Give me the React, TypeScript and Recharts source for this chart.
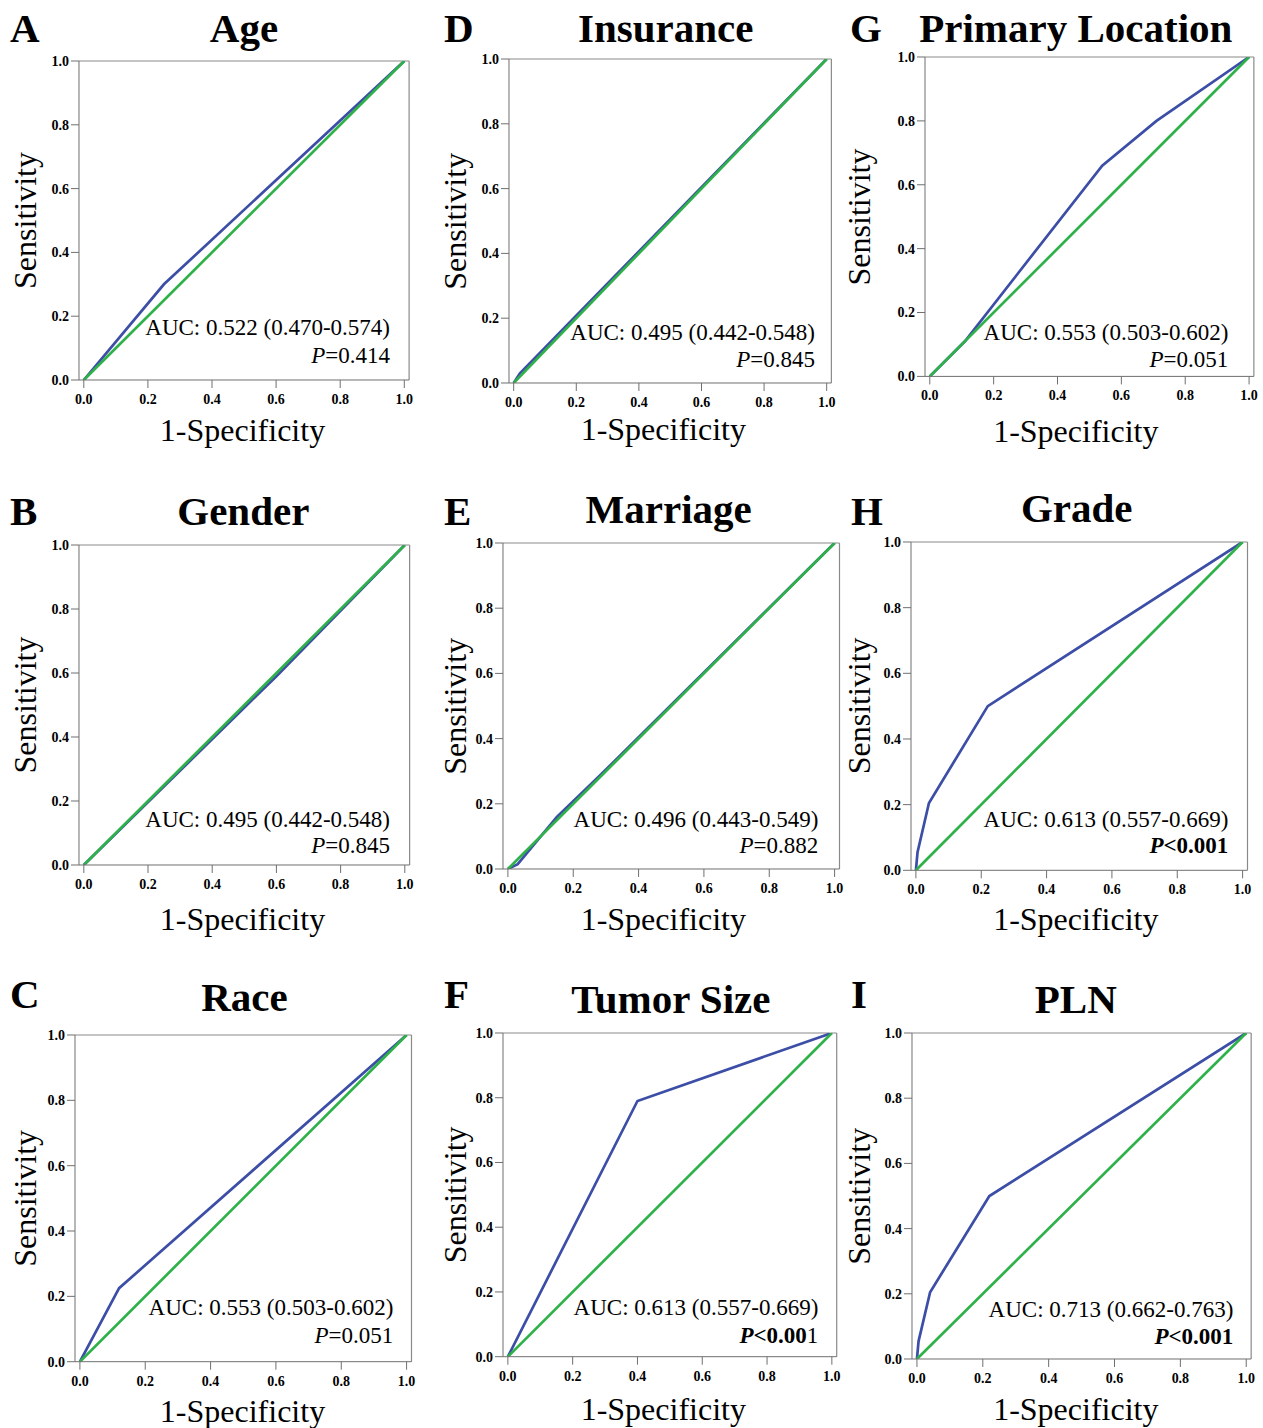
import React from 'react';
import { LineChart, Line, XAxis, YAxis, ReferenceLine } from 'recharts';

// ---- data ----
const panelLetters = ['A', 'B', 'C', 'D', 'E', 'F', 'G', 'H', 'I'];
const panelTitles = ['Age', 'Gender', 'Race', 'Insurance', 'Marriage', 'Tumor Size', 'Primary Location', 'Grade', 'PLN'];
const aucLabels = [
  'AUC: 0.522 (0.470-0.574)',
  'AUC: 0.495 (0.442-0.548)',
  'AUC: 0.553 (0.503-0.602)',
  'AUC: 0.495 (0.442-0.548)',
  'AUC: 0.496 (0.443-0.549)',
  'AUC: 0.613 (0.557-0.669)',
  'AUC: 0.553 (0.503-0.602)',
  'AUC: 0.613 (0.557-0.669)',
  'AUC: 0.713 (0.662-0.763)',
];
const pValues = ['=0.414', '=0.845', '=0.051', '=0.845', '=0.882', '<0.001', '=0.051', '<0.001', '<0.001'];
// number of characters of the P value that are printed bold (0 = not significant)
const pBoldChars = [0, 0, 0, 0, 0, 5, 0, 6, 6];

const ageFpr = [0, 0.25, 1];
const ageTpr = [0, 0.30, 1];
const genderFpr = [0, 0.6, 1];
const genderTpr = [0, 0.59, 1];
const raceFpr = [0, 0.12, 1];
const raceTpr = [0, 0.225, 1];
const insuranceFpr = [0, 0.02, 1];
const insuranceTpr = [0, 0.03, 1];
const marriageFpr = [0, 0.03, 0.15, 0.28, 1];
const marriageTpr = [0, 0.015, 0.16, 0.285, 1];
const tumorFpr = [0, 0.4, 1];
const tumorTpr = [0, 0.79, 1];
const locationFpr = [0, 0.11, 0.54, 0.71, 1];
const locationTpr = [0, 0.11, 0.66, 0.80, 1];
const gradeFpr = [0, 0.005, 0.04, 0.22, 1];
const gradeTpr = [0, 0.055, 0.205, 0.5, 1];
const plnFpr = [0, 0.005, 0.04, 0.22, 1];
const plnTpr = [0, 0.055, 0.205, 0.5, 1];

const referenceFpr = [0, 1];
const referenceTpr = [0, 1];

const tickValues = [0, 0.2, 0.4, 0.6, 0.8, 1.0];

const curves = [
  [ageFpr, ageTpr],
  [genderFpr, genderTpr],
  [raceFpr, raceTpr],
  [insuranceFpr, insuranceTpr],
  [marriageFpr, marriageTpr],
  [tumorFpr, tumorTpr],
  [locationFpr, locationTpr],
  [gradeFpr, gradeTpr],
  [plnFpr, plnTpr],
];

// ---- layout (page pixels) ----
const layouts = [
  { x0: 83.5, x1: 404, top: 61, bottom: 380, titleX: 244, titleY: 42, letterX: 10, letterY: 42, ylabX: 36, xlabX: 242.5, xlabY: 441, aucX: 390, aucY: 335, pY: 362.7 },
  { x0: 84, x1: 405, top: 545, bottom: 865, titleX: 243.3, titleY: 525, letterX: 10, letterY: 525, ylabX: 36, xlabX: 242.5, xlabY: 930, aucX: 390, aucY: 826.7, pY: 853.3 },
  { x0: 80, x1: 406.7, top: 1035, bottom: 1361.7, titleX: 244.5, titleY: 1011, letterX: 10, letterY: 1008, ylabX: 36, xlabX: 242.5, xlabY: 1421.5, aucX: 393.3, aucY: 1315, pY: 1342.7 },
  { x0: 514, x1: 827, top: 59.3, bottom: 383.3, titleX: 665.8, titleY: 42, letterX: 444, letterY: 42, ylabX: 466, xlabX: 663.3, xlabY: 440, aucX: 815, aucY: 340, pY: 366.7 },
  { x0: 508.3, x1: 835, top: 543.3, bottom: 869.3, titleX: 668.7, titleY: 523, letterX: 444, letterY: 525, ylabX: 466, xlabX: 663.3, xlabY: 930, aucX: 818.3, aucY: 826.7, pY: 853.3 },
  { x0: 507.7, x1: 831.7, top: 1033, bottom: 1356.7, titleX: 670.8, titleY: 1013, letterX: 444, letterY: 1008, ylabX: 466, xlabX: 663.3, xlabY: 1420, aucX: 818.3, aucY: 1315, pY: 1342.7 },
  { x0: 930, x1: 1249.3, top: 57.3, bottom: 376.7, titleX: 1075.8, titleY: 42, letterX: 850, letterY: 42, ylabX: 870, xlabX: 1075.8, xlabY: 441.7, aucX: 1228.3, aucY: 340, pY: 366.7 },
  { x0: 916, x1: 1242.7, top: 541.7, bottom: 870, titleX: 1076.7, titleY: 522, letterX: 851, letterY: 525, ylabX: 870, xlabX: 1075.8, xlabY: 930, aucX: 1228.3, aucY: 826.7, pY: 853.3 },
  { x0: 916.7, x1: 1246, top: 1033.3, bottom: 1359.3, titleX: 1075.8, titleY: 1013, letterX: 851, letterY: 1008, ylabX: 870, xlabX: 1075.8, xlabY: 1420, aucX: 1233.3, aucY: 1316.7, pY: 1344 },
];

const SERIF = '"Liberation Serif", "Times New Roman", serif';
const BLUE = '#3c4ea6';
const GREEN = '#2fb14a';
const AXIS = '#6e6e6e';
const FRAME = '#8a8a8a';
const PAD = 0.015;
const ML = 60;
const MT = 10;
const MR = 10;
const XH = 40;

const toPoints = (xs: number[], ys: number[]) => xs.map((x, k) => ({ x, y: ys[k] }));
const fmt = (v: number) => v.toFixed(1);

function RocPanel({ index }: { index: number }) {
  const lay = layouts[index];
  const s = lay.x1 - lay.x0;
  const L = lay.x0 - PAD * s;
  const R = lay.x1 + PAD * s;
  const width = R - L + ML + MR;
  const height = lay.bottom - lay.top + MT + XH;
  const [fx, fy] = curves[index];
  const blueData = toPoints(fx, fy);
  const greenData = toPoints(referenceFpr, referenceTpr);
  const tickStyle = { fill: '#000', fontSize: 14, fontWeight: 'bold', fontFamily: SERIF };
  return (
    <div style={{ position: 'absolute', left: L - ML, top: lay.top - MT, width, height }}>
      <LineChart width={width} height={height} data={blueData} margin={{ top: MT, right: MR, left: 0, bottom: 0 }}>
        <XAxis
          type="number"
          dataKey="x"
          domain={[-PAD, 1 + PAD]}
          allowDataOverflow
          ticks={tickValues}
          interval={0}
          tickFormatter={fmt}
          height={XH}
          tickSize={8}
          tickMargin={6}
          stroke={AXIS}
          tick={tickStyle}
        />
        <YAxis
          type="number"
          domain={[0, 1]}
          allowDataOverflow
          ticks={tickValues}
          interval={0}
          tickFormatter={fmt}
          width={ML}
          tickSize={8}
          tickMargin={2}
          stroke={AXIS}
          tick={tickStyle}
        />
        <ReferenceLine y={1} stroke={FRAME} strokeWidth={1.2} ifOverflow="visible" />
        <ReferenceLine x={1 + PAD} stroke={FRAME} strokeWidth={1.2} ifOverflow="visible" />
        <Line
          type="linear"
          dataKey="y"
          stroke={BLUE}
          strokeWidth={2.7}
          dot={false}
          activeDot={false}
          isAnimationActive={false}
        />
        <Line
          type="linear"
          data={greenData}
          dataKey="y"
          stroke={GREEN}
          strokeWidth={2.7}
          dot={false}
          activeDot={false}
          isAnimationActive={false}
        />
      </LineChart>
    </div>
  );
}

function Annotations() {
  return (
    <svg
      width={1263}
      height={1428}
      style={{ position: 'absolute', left: 0, top: 0, pointerEvents: 'none' }}
    >
      {layouts.map((lay, i) => {
        const yMid = (lay.top + lay.bottom) / 2;
        const pv = pValues[i];
        const nb = pBoldChars[i];
        return (
          <g key={i} fontFamily={SERIF} fill="#000">
            <text x={lay.letterX} y={lay.letterY} fontSize={41} fontWeight="bold">
              {panelLetters[i]}
            </text>
            <text x={lay.titleX} y={lay.titleY} fontSize={41} fontWeight="bold" textAnchor="middle">
              {panelTitles[i]}
            </text>
            <text
              x={lay.ylabX}
              y={yMid}
              fontSize={32}
              textAnchor="middle"
              transform={`rotate(-90 ${lay.ylabX} ${yMid})`}
            >
              Sensitivity
            </text>
            <text x={lay.xlabX} y={lay.xlabY} fontSize={32} textAnchor="middle">
              1-Specificity
            </text>
            <text x={lay.aucX} y={lay.aucY} fontSize={23} textAnchor="end">
              {aucLabels[i]}
            </text>
            <text x={lay.aucX} y={lay.pY} fontSize={23} textAnchor="end">
              <tspan fontStyle="italic" fontWeight={nb > 0 ? 'bold' : 'normal'}>P</tspan>
              {nb > 0 ? <tspan fontWeight="bold">{pv.slice(0, nb)}</tspan> : null}
              <tspan>{pv.slice(nb)}</tspan>
            </text>
          </g>
        );
      })}
    </svg>
  );
}

export default function App() {
  return (
    <div
      style={{
        position: 'absolute',
        left: 0,
        top: 0,
        width: 1263,
        height: 1428,
        background: '#fff',
        overflow: 'hidden',
      }}
    >
      {layouts.map((_, i) => (
        <RocPanel key={i} index={i} />
      ))}
      <Annotations />
    </div>
  );
}
